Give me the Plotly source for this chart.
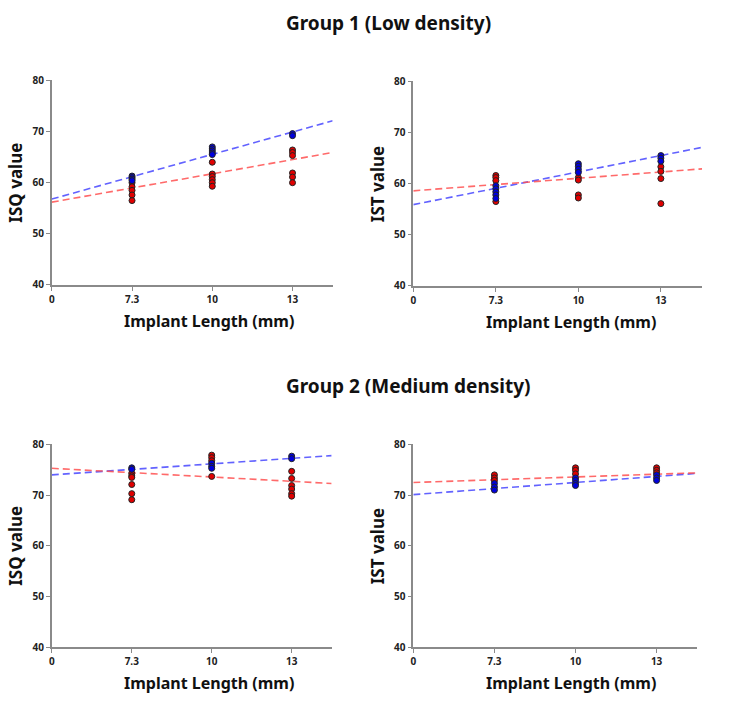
import plotly.graph_objects as go

# ---- data ----
tick_positions = [0, 1, 2, 3]
tick_labels = ["0", "7.3", "10", "13"]
x_end = 3.5

# Group 1 ISQ (positions: 1=7.3, 2=10, 3=13)
g1_isq_blue_x = [1, 1, 1, 1, 2, 2, 2, 2, 2, 3, 3]
g1_isq_blue_y = [61.3, 61.0, 60.7, 60.4, 67.0, 66.6, 66.2, 65.8, 65.5, 69.6, 69.2]
g1_isq_red_x = [1, 1, 1, 1, 1, 2, 2, 2, 2, 2, 2, 3, 3, 3, 3, 3, 3]
g1_isq_red_y = [60.0, 59.2, 58.5, 57.6, 56.5, 64.0, 61.7, 61.2, 60.6, 60.0, 59.3, 66.4, 65.9, 65.3, 61.9, 61.1, 60.0]
g1_isq_blue_fit = [56.8, 72.1]
g1_isq_red_fit = [56.2, 65.9]

# Group 1 IST
g1_ist_blue_x = [1, 1, 1, 1, 1, 2, 2, 2, 2, 3, 3, 3]
g1_ist_blue_y = [59.6, 59.0, 58.4, 57.8, 57.1, 63.9, 63.4, 62.8, 62.2, 65.5, 65.0, 64.4]
g1_ist_red_x = [1, 1, 1, 1, 2, 2, 2, 2, 3, 3, 3, 3]
g1_ist_red_y = [61.6, 61.2, 60.6, 56.5, 61.2, 60.7, 57.8, 57.2, 63.3, 62.4, 61.0, 56.1]
g1_ist_blue_fit = [55.9, 67.1]
g1_ist_red_fit = [58.6, 62.9]

# Group 2 ISQ
g2_isq_blue_x = [1, 1, 2, 2, 2, 3, 3]
g2_isq_blue_y = [75.4, 75.1, 76.3, 75.7, 75.3, 77.7, 77.2]
g2_isq_red_x = [1, 1, 1, 1, 1, 1, 2, 2, 2, 2, 3, 3, 3, 3, 3, 3]
g2_isq_red_y = [74.3, 73.8, 73.5, 72.1, 70.3, 69.1, 77.9, 77.4, 76.8, 73.7, 74.7, 73.3, 71.9, 71.2, 70.3, 69.8]
g2_isq_blue_fit = [74.0, 77.8]
g2_isq_red_fit = [75.3, 72.3]

# Group 2 IST
g2_ist_blue_x = [1, 1, 1, 2, 2, 2, 2, 3, 3, 3]
g2_ist_blue_y = [72.3, 71.6, 71.0, 73.4, 72.9, 72.3, 71.9, 74.0, 73.4, 72.9]
g2_ist_red_x = [1, 1, 1, 2, 2, 2, 3, 3, 3]
g2_ist_red_y = [74.0, 73.4, 72.9, 75.4, 74.9, 74.2, 75.4, 74.9, 74.4]
g2_ist_blue_fit = [70.1, 74.3]
g2_ist_red_fit = [72.5, 74.4]

y_ticks = [40, 50, 60, 70, 80]

panels = [
    dict(bx=g1_isq_blue_x, by=g1_isq_blue_y, rx=g1_isq_red_x, ry=g1_isq_red_y,
         bf=g1_isq_blue_fit, rf=g1_isq_red_fit, ylab="ISQ value"),
    dict(bx=g1_ist_blue_x, by=g1_ist_blue_y, rx=g1_ist_red_x, ry=g1_ist_red_y,
         bf=g1_ist_blue_fit, rf=g1_ist_red_fit, ylab="IST value"),
    dict(bx=g2_isq_blue_x, by=g2_isq_blue_y, rx=g2_isq_red_x, ry=g2_isq_red_y,
         bf=g2_isq_blue_fit, rf=g2_isq_red_fit, ylab="ISQ value"),
    dict(bx=g2_ist_blue_x, by=g2_ist_blue_y, rx=g2_ist_red_x, ry=g2_ist_red_y,
         bf=g2_ist_blue_fit, rf=g2_ist_red_fit, ylab="IST value"),
]

W, H = 733, 704
# pixel boxes: (left, right, top, bottom)
boxes = [(49, 331, 74, 283), (412, 702, 75, 284), (49, 330, 446, 653), (412, 697, 446, 653)]

FONT = "Noto Sans"
fig = go.Figure()
layout = dict(width=W, height=H, margin=dict(l=0, r=0, t=0, b=0),
              paper_bgcolor="white", plot_bgcolor="white", showlegend=False)
annotations = []

for i, (p, b) in enumerate(zip(panels, boxes)):
    n = "" if i == 0 else str(i + 1)
    xa, ya = "x" + n, "y" + n
    l, r, t, bt = b
    layout["xaxis" + n] = dict(
        domain=[l / W, r / W], range=[0, x_end], anchor=ya,
        tickvals=tick_positions, ticktext=tick_labels,
        showline=True, linecolor="#8a8a8a", linewidth=1.5,
        ticks="outside", ticklen=4, tickcolor="#8a8a8a", tickwidth=1,
        showgrid=False, zeroline=False,
        tickfont=dict(family=FONT, size=10, color="#222", weight="bold"))
    layout["yaxis" + n] = dict(
        domain=[1 - bt / H, 1 - t / H], range=[40, 80], anchor=xa,
        tickvals=y_ticks,
        showline=True, linecolor="#8a8a8a", linewidth=1.5,
        ticks="outside", ticklen=4, tickcolor="#8a8a8a", tickwidth=1,
        showgrid=False, zeroline=False,
        tickfont=dict(family=FONT, size=10, color="#222", weight="bold"))
    fig.add_trace(go.Scatter(x=[0, x_end], y=p["bf"], mode="lines", xaxis=xa, yaxis=ya,
                             line=dict(color="rgba(70,70,255,0.85)", width=1.6, dash="7px,4px"),
                             cliponaxis=False))
    fig.add_trace(go.Scatter(x=[0, x_end], y=p["rf"], mode="lines", xaxis=xa, yaxis=ya,
                             line=dict(color="rgba(255,80,80,0.85)", width=1.6, dash="7px,4px"),
                             cliponaxis=False))
    fig.add_trace(go.Scatter(x=p["rx"], y=p["ry"], mode="markers", xaxis=xa, yaxis=ya,
                             marker=dict(size=6, color="#e00000", line=dict(color="#222", width=1))))
    fig.add_trace(go.Scatter(x=p["bx"], y=p["by"], mode="markers", xaxis=xa, yaxis=ya,
                             marker=dict(size=6, color="#0000dd", line=dict(color="#222", width=1))))
    # axis titles
    annotations.append(dict(text="Implant Length (mm)", xref="paper", yref="paper",
                            x=(l + 158) / W, y=1 - (bt + 37) / H, showarrow=False,
                            xanchor="center", yanchor="middle",
                            font=dict(family=FONT, size=16, color="#111", weight="bold")))
    annotations.append(dict(text=p["ylab"], xref="paper", yref="paper", textangle=-90,
                            x=(l - 36) / W, y=1 - (t + bt) / 2 / H, showarrow=False,
                            xanchor="center", yanchor="middle",
                            font=dict(family=FONT, size=17, color="#111", weight="bold")))

annotations.append(dict(text="Group 1 (Low density)", xref="paper", yref="paper",
                        x=387 / W, y=1 - 15 / H, showarrow=False, xanchor="center", yanchor="middle",
                        font=dict(family=FONT, size=19, color="#111", weight="bold")))
annotations.append(dict(text="Group 2 (Medium density)", xref="paper", yref="paper",
                        x=407 / W, y=1 - 386 / H, showarrow=False, xanchor="center", yanchor="middle",
                        font=dict(family=FONT, size=19, color="#111", weight="bold")))
layout["annotations"] = annotations
fig.update_layout(**layout)
fig.write_html("out.html", config={"displayModeBar": False},
               post_script="document.body.style.margin='0';document.body.style.padding='0';")
